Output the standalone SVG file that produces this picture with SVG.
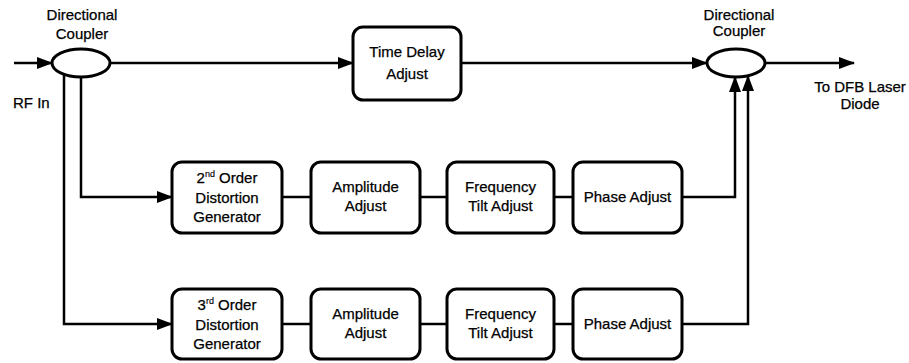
<svg xmlns="http://www.w3.org/2000/svg" width="909" height="363" viewBox="0 0 909 363">
  <defs>
    <marker id="arrow" markerUnits="userSpaceOnUse" markerWidth="16" markerHeight="12" refX="15" refY="6" orient="auto">
      <path d="M0,0 L16,6 L0,12 z" fill="#000"/>
    </marker>
    <style>
      .box { fill: #fff; stroke: #000; stroke-width: 3; }
      .coupler { fill: #fff; stroke: #000; stroke-width: 3; }
      .wire { fill: none; stroke: #000; stroke-width: 2.5; }
      .arrow { marker-end: url(#arrow); }
      text { font-family: "Liberation Sans", Arial, sans-serif; font-size: 15px; fill: #000; stroke: #000; stroke-width: 0.25; }
      .c { text-anchor: middle; }
      .sup { font-size: 9px; stroke-width: 0.15; }
    </style>
  </defs>

  <rect width="909" height="363" fill="#fff"/>

  <!-- connectors -->
  <g id="connectors">
    <!-- RF input into the first coupler -->
    <path class="wire arrow" d="M14,63 H52"/>
    <!-- through path with time delay -->
    <path class="wire arrow" d="M110,63 H353"/>
    <path class="wire arrow" d="M461,63 H707"/>
    <!-- output to laser -->
    <path class="wire arrow" d="M765,63 H854"/>
    <!-- tap to 2nd order branch -->
    <path class="wire arrow" d="M81,77 V197 H172"/>
    <!-- tap to 3rd order branch -->
    <path class="wire arrow" d="M64,74 V324 H172"/>
    <!-- 2nd order chain -->
    <path class="wire" d="M282,197 H311"/>
    <path class="wire" d="M420,197 H447"/>
    <path class="wire" d="M554,197 H573"/>
    <path class="wire arrow" d="M682,197 H735 V77"/>
    <!-- 3rd order chain -->
    <path class="wire" d="M282,324 H311"/>
    <path class="wire" d="M420,324 H447"/>
    <path class="wire" d="M554,324 H573"/>
    <path class="wire arrow" d="M682,324 H748 V76"/>
  </g>

  <!-- input coupler -->
  <g id="coupler-in">
    <ellipse class="coupler" cx="81" cy="63" rx="29" ry="14"/>
    <text class="c" x="82" y="20">Directional</text>
    <text class="c" x="82" y="39">Coupler</text>
  </g>

  <g id="rf-in">
    <text x="13" y="108">RF In</text>
  </g>

  <!-- output coupler -->
  <g id="coupler-out">
    <ellipse class="coupler" cx="736" cy="63" rx="29" ry="14"/>
    <text class="c" x="739" y="20">Directional</text>
    <text class="c" x="739" y="36">Coupler</text>
  </g>

  <g id="laser-out">
    <text class="c" x="860" y="92">To DFB Laser</text>
    <text class="c" x="860" y="109">Diode</text>
  </g>

  <g id="time-delay">
    <rect class="box" x="353" y="27" width="108" height="73" rx="10"/>
    <text class="c" x="407" y="57">Time Delay</text>
    <text class="c" x="407" y="79">Adjust</text>
  </g>

  <!-- 2nd order branch -->
  <g id="gen2">
    <rect class="box" x="172" y="162" width="110" height="71" rx="10"/>
    <text class="c" x="227" y="183">2<tspan class="sup" dy="-6">nd</tspan><tspan dy="6"> Order</tspan></text>
    <text class="c" x="227" y="203">Distortion</text>
    <text class="c" x="227" y="222">Generator</text>
  </g>
  <g id="amp2">
    <rect class="box" x="311" y="162" width="109" height="71" rx="10"/>
    <text class="c" x="365.5" y="192">Amplitude</text>
    <text class="c" x="365.5" y="211">Adjust</text>
  </g>
  <g id="tilt2">
    <rect class="box" x="447" y="162" width="107" height="71" rx="10"/>
    <text class="c" x="500.5" y="192">Frequency</text>
    <text class="c" x="500.5" y="211">Tilt Adjust</text>
  </g>
  <g id="phase2">
    <rect class="box" x="573" y="162" width="109" height="71" rx="10"/>
    <text class="c" x="627.5" y="202">Phase Adjust</text>
  </g>

  <!-- 3rd order branch -->
  <g id="gen3">
    <rect class="box" x="172" y="289" width="110" height="70" rx="10"/>
    <text class="c" x="227" y="310">3<tspan class="sup" dy="-6">rd</tspan><tspan dy="6"> Order</tspan></text>
    <text class="c" x="227" y="330">Distortion</text>
    <text class="c" x="227" y="349">Generator</text>
  </g>
  <g id="amp3">
    <rect class="box" x="311" y="289" width="109" height="70" rx="10"/>
    <text class="c" x="365.5" y="319">Amplitude</text>
    <text class="c" x="365.5" y="338">Adjust</text>
  </g>
  <g id="tilt3">
    <rect class="box" x="447" y="289" width="107" height="70" rx="10"/>
    <text class="c" x="500.5" y="319">Frequency</text>
    <text class="c" x="500.5" y="338">Tilt Adjust</text>
  </g>
  <g id="phase3">
    <rect class="box" x="573" y="289" width="109" height="70" rx="10"/>
    <text class="c" x="627.5" y="329">Phase Adjust</text>
  </g>
</svg>
